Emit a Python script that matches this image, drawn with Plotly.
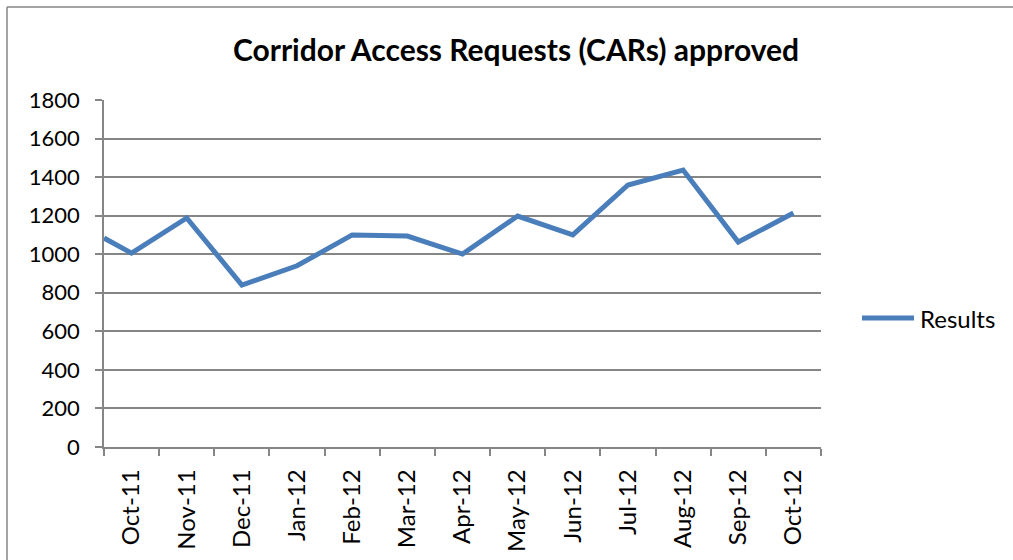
import plotly.graph_objects as go

# ---- data ----
months = ["Oct-11", "Nov-11", "Dec-11", "Jan-12", "Feb-12", "Mar-12", "Apr-12",
          "May-12", "Jun-12", "Jul-12", "Aug-12", "Sep-12", "Oct-12"]
values = [1006, 1188, 840, 940, 1100, 1094, 1001, 1198, 1100, 1359, 1437, 1063, 1214]
start_value = 1084          # value where the line enters at the left edge of the axis
series_name = "Results"
title_text = "Corridor Access Requests (CARs) approved"
y_ticks = [0, 200, 400, 600, 800, 1000, 1200, 1400, 1600, 1800]

# ---- styling ----
LINE_COLOR = "#4A7EBB"
GRID = "#868686"
FONT = "Lato"

W, H = 1013, 560
L, R, T, B = 104, 821, 100, 447   # plot-area pixel edges

centers = list(range(len(months)))
x_line = [-0.5] + centers
y_line = [start_value] + values
boundaries = [i - 0.5 for i in range(len(months) + 1)]

fig = go.Figure()
fig.add_trace(go.Scatter(
    x=x_line, y=y_line, mode="lines", name=series_name,
    line=dict(color=LINE_COLOR, width=5),
    showlegend=False, hoverinfo="skip",
))

def px_to_paper_x(px):
    return (px - L) / (R - L)

def px_to_paper_y(py):
    return (B - py) / (B - T)

fig.update_layout(
    width=W, height=H,
    margin=dict(l=L, r=W - R, t=T, b=H - B, pad=0, autoexpand=False),
    paper_bgcolor="white", plot_bgcolor="white",
    font=dict(family=FONT, size=22, color="#000000"),
    title=dict(text="<b>" + title_text + "</b>", x=516 / W, xref="container", xanchor="center",
               y=1 - 50 / H, yref="container", yanchor="middle",
               font=dict(family=FONT, size=30, color="#000000")),
    xaxis=dict(
        range=[-0.5, len(months) - 0.5], automargin=False,
        tickmode="array", tickvals=centers, ticktext=months, tickangle=-90,
        ticks="outside", ticklen=7, tickcolor="rgba(0,0,0,0)",
        showgrid=False, zeroline=False,
        showline=True, linecolor=GRID, linewidth=1.5,
        minor=dict(tickmode="array", tickvals=boundaries, ticks="outside",
                   ticklen=7, tickcolor=GRID, tickwidth=1.5, showgrid=False),
        tickfont=dict(family=FONT, size=24, color="#000000"),
        ticklabelstandoff=4,
        fixedrange=True,
    ),
    yaxis=dict(
        range=[0, 1800], tickmode="array", tickvals=y_ticks, automargin=False,
        ticks="outside", ticklen=7, tickcolor=GRID, tickwidth=1.5,
        showgrid=True, gridcolor=GRID, gridwidth=1.5,
        zeroline=False, showline=True, linecolor=GRID, linewidth=1.5,
        tickfont=dict(family=FONT, size=22, color="#000000"),
        ticklabelstandoff=11,
        fixedrange=True,
    ),
    shapes=[
        # outer chart frame (top and left edges visible in the crop)
        dict(type="line", xref="paper", yref="paper",
             x0=px_to_paper_x(7), x1=px_to_paper_x(W + 20),
             y0=px_to_paper_y(7), y1=px_to_paper_y(7),
             line=dict(color=GRID, width=1.5)),
        dict(type="line", xref="paper", yref="paper",
             x0=px_to_paper_x(7), x1=px_to_paper_x(7),
             y0=px_to_paper_y(7), y1=px_to_paper_y(H + 20),
             line=dict(color=GRID, width=1.5)),
        # legend key
        dict(type="line", xref="paper", yref="paper",
             x0=px_to_paper_x(862), x1=px_to_paper_x(914),
             y0=px_to_paper_y(318), y1=px_to_paper_y(318),
             line=dict(color=LINE_COLOR, width=5)),
    ],
    annotations=[
        dict(text=series_name, xref="paper", yref="paper",
             x=px_to_paper_x(918), y=px_to_paper_y(318),
             xanchor="left", yanchor="middle", showarrow=False,
             font=dict(family=FONT, size=24, color="#000000")),
    ],
)

fig.write_html(
    "out.html", config={"displayModeBar": False},
    post_script=("document.documentElement.style.overflow='hidden';"
                 "document.body.style.margin='0';"
                 "document.body.style.overflow='hidden';"),
)
